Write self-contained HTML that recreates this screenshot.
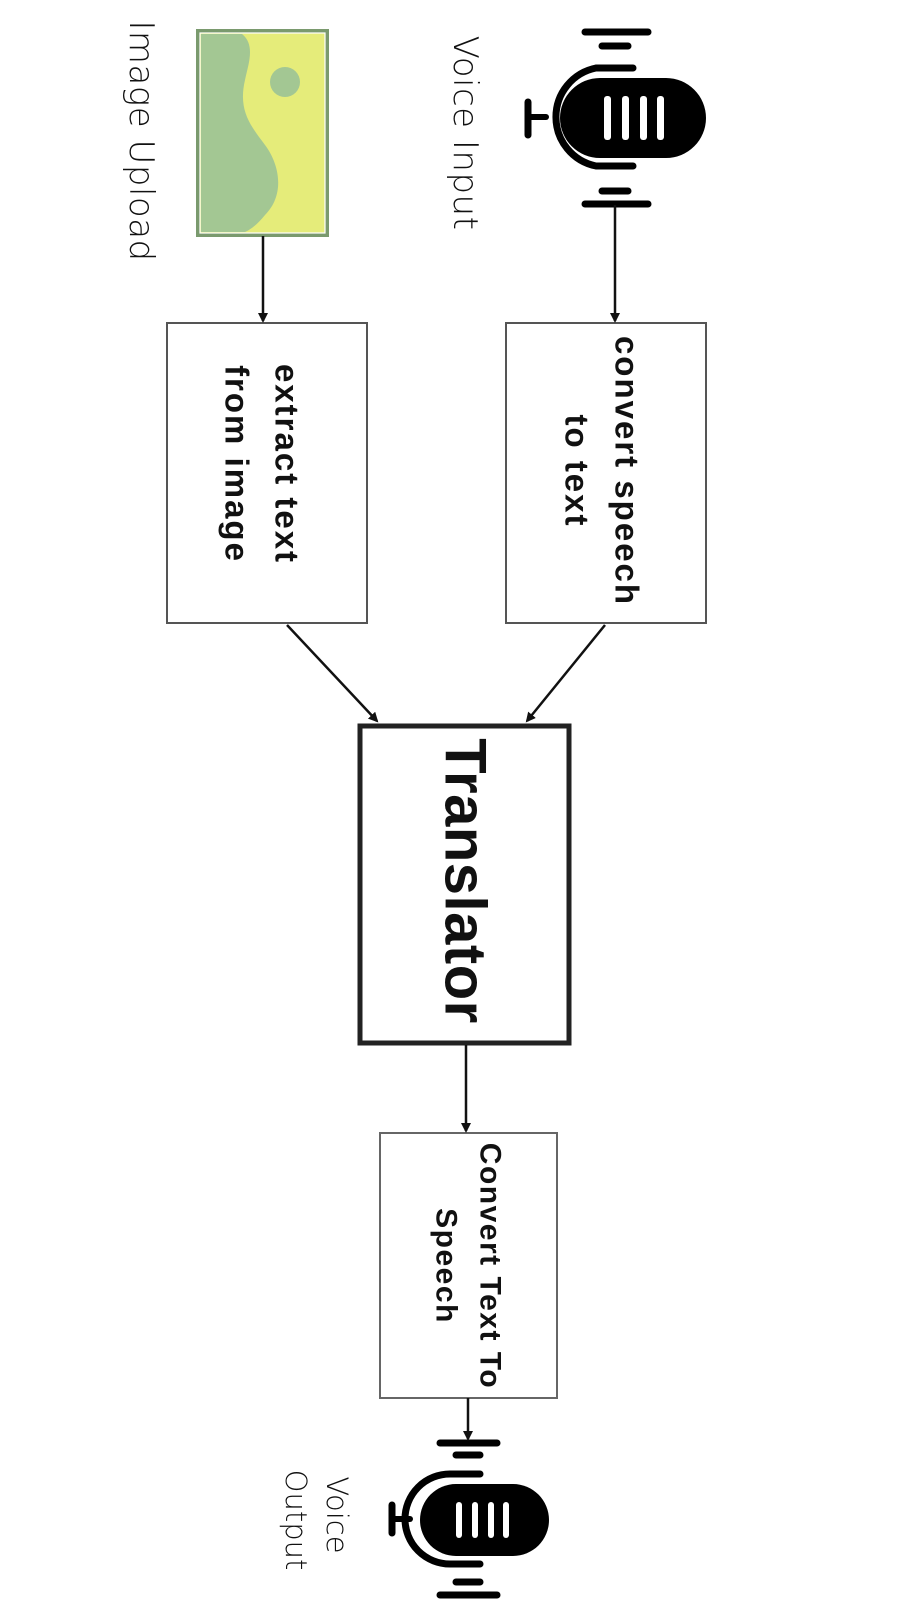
<!DOCTYPE html>
<html><head><style>html,body{margin:0;padding:0;background:#fff}svg{display:block}</style></head>
<body>
<svg width="899" height="1599" viewBox="0 0 899 1599" xmlns="http://www.w3.org/2000/svg" font-family="Liberation Sans, sans-serif">
<defs><marker id="a" markerWidth="10" markerHeight="10" refX="8" refY="5" orient="auto" markerUnits="userSpaceOnUse"><path d="M0,0 L10,5 L0,10 z" fill="#111"/></marker></defs>
<!-- top mic -->
<g stroke="#000" stroke-linecap="round" fill="none">
<line x1="585" y1="32" x2="648" y2="32" stroke-width="7"/>
<line x1="602" y1="46" x2="628" y2="46" stroke-width="7"/>
<line x1="602" y1="191" x2="628" y2="191" stroke-width="7"/>
<line x1="585" y1="204" x2="648" y2="204" stroke-width="7"/>
<path d="M633,68 L596,68 A50,50 0 0 0 596,166 L633,166" stroke-width="7"/>
<line x1="528" y1="117" x2="546" y2="117" stroke-width="6"/>
<line x1="528" y1="102" x2="528" y2="135" stroke-width="7"/>
</g>
<rect x="560" y="78" width="146" height="80" rx="40" fill="#000"/>
<g fill="#fff"><rect x="604" y="96" width="7" height="44" rx="3"/><rect x="622" y="96" width="7" height="44" rx="3"/><rect x="640" y="96" width="7" height="44" rx="3"/><rect x="657" y="96" width="7" height="44" rx="3"/></g>
<!-- bottom mic -->
<g stroke="#000" stroke-linecap="round" fill="none">
<line x1="440" y1="1443" x2="497" y2="1443" stroke-width="7"/>
<line x1="456" y1="1455" x2="480" y2="1455" stroke-width="7"/>
<line x1="456" y1="1582" x2="480" y2="1582" stroke-width="7"/>
<line x1="440" y1="1595" x2="497" y2="1595" stroke-width="7"/>
<path d="M480,1474 L450,1474 A45,45 0 0 0 450,1564 L480,1564" stroke-width="7"/>
<line x1="392" y1="1519" x2="410" y2="1519" stroke-width="6"/>
<line x1="392" y1="1505" x2="392" y2="1533" stroke-width="7"/>
</g>
<rect x="420" y="1484" width="129" height="72" rx="36" fill="#000"/>
<g fill="#fff"><rect x="456" y="1502" width="6" height="36" rx="3"/><rect x="472" y="1502" width="6" height="36" rx="3"/><rect x="488" y="1502" width="6" height="36" rx="3"/><rect x="503" y="1502" width="6" height="36" rx="3"/></g>
<!-- image icon -->
<rect x="198" y="31" width="129" height="204" fill="#e5ec7a" stroke="#7a9a6e" stroke-width="4"/>
<path d="M201,34 L242,34 C256,45 248,65 245,80 C238,110 250,125 265,145 C280,165 285,195 265,215 C258,224 250,230 245,232 L201,232 Z" fill="#a3c793"/>
<rect x="200" y="33" width="125" height="200" fill="none" stroke="#fff" stroke-width="1.2"/>
<circle cx="285" cy="82" r="15" fill="#a3c793"/>
<!-- boxes -->
<rect x="506" y="323" width="200" height="300" fill="#fff" stroke="#555" stroke-width="2"/>
<rect x="167" y="323" width="200" height="300" fill="#fff" stroke="#555" stroke-width="2"/>
<rect x="360" y="726" width="209" height="317" fill="#fff" stroke="#222" stroke-width="5"/>
<rect x="380" y="1133" width="177" height="265" fill="#fff" stroke="#666" stroke-width="2"/>
<!-- arrows -->
<g stroke="#111" stroke-width="2.5" marker-end="url(#a)">
<line x1="615" y1="205" x2="615" y2="321"/>
<line x1="263" y1="236" x2="263" y2="321"/>
<line x1="605" y1="625" x2="527" y2="721"/>
<line x1="287" y1="625" x2="377" y2="721"/>
<line x1="466" y1="1045" x2="466" y2="1131"/>
<line x1="468" y1="1398" x2="468" y2="1439"/>
</g>
<!-- text -->
<g dominant-baseline="central" text-anchor="middle" fill="#111">
<text transform="translate(465,133) rotate(90)" font-size="34" font-family="DejaVu Sans, sans-serif" font-weight="300" letter-spacing="0.5">Voice Input</text>
<text transform="translate(141,141) rotate(90)" font-size="34" font-family="DejaVu Sans, sans-serif" font-weight="300" letter-spacing="0.5">Image Upload</text>
<text transform="translate(627,471) rotate(90)" font-size="33" font-weight="bold" letter-spacing="2">convert speech</text>
<text transform="translate(577,471) rotate(90)" font-size="33" font-weight="bold" letter-spacing="2">to text</text>
<text transform="translate(287,464) rotate(90)" font-size="33" font-weight="bold" letter-spacing="2">extract text</text>
<text transform="translate(237,464) rotate(90)" font-size="33" font-weight="bold" letter-spacing="2">from image</text>
<text transform="translate(465,881) rotate(90)" font-size="58" font-weight="bold" letter-spacing="0.5">Translator</text>
<text transform="translate(490,1266) rotate(90)" font-size="30" font-weight="bold" letter-spacing="1.5">Convert Text To</text>
<text transform="translate(446,1266) rotate(90)" font-size="30" font-weight="bold" letter-spacing="1.5">Speech</text>
<text transform="translate(337,1515) rotate(90)" font-size="29" font-family="DejaVu Sans, sans-serif" font-weight="300">Voice</text>
<text transform="translate(296,1520) rotate(90)" font-size="29" font-family="DejaVu Sans, sans-serif" font-weight="300">Output</text>
</g>
</svg>
</body></html>
